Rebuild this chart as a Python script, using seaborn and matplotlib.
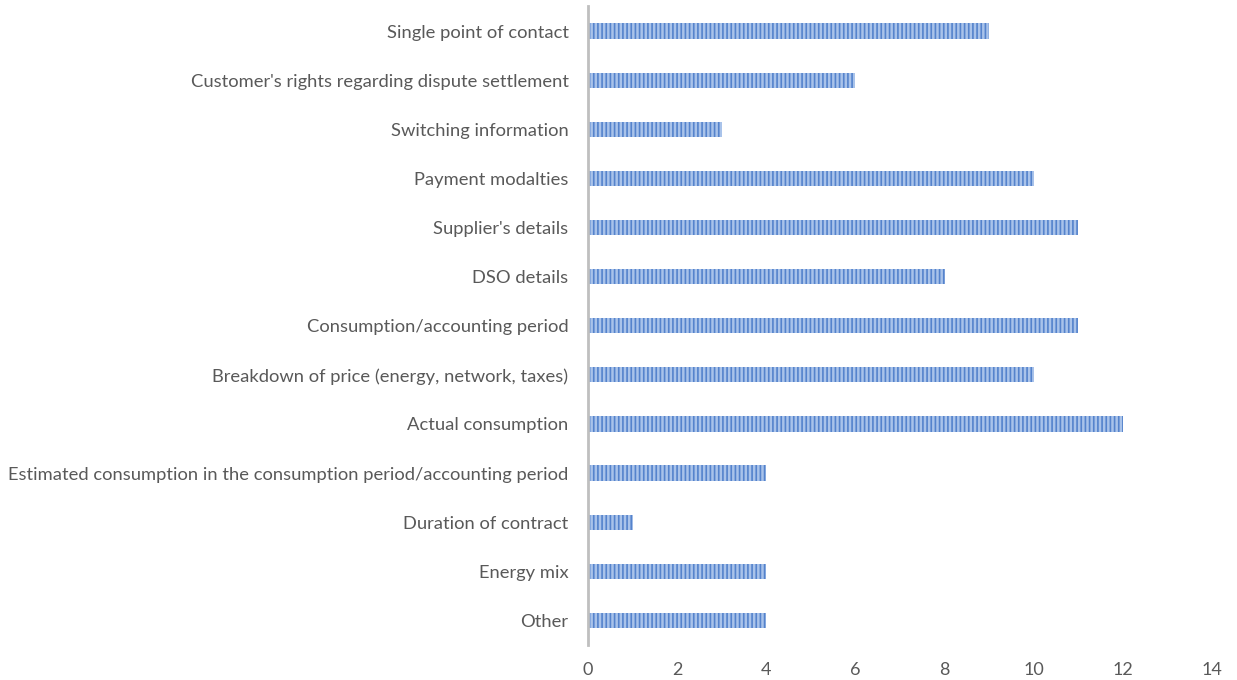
import matplotlib
matplotlib.use("Agg")
import matplotlib.pyplot as plt
import seaborn as sns
import pandas as pd

categories = [
    "Single point of contact",
    "Customer's rights regarding dispute settlement",
    "Switching information",
    "Payment modalties",
    "Supplier's details",
    "DSO details",
    "Consumption/accounting period",
    "Breakdown of price (energy, network, taxes)",
    "Actual consumption",
    "Estimated consumption in the consumption period/accounting period",
    "Duration of contract",
    "Energy mix",
    "Other",
]
counts = [9, 6, 3, 10, 11, 8, 11, 10, 12, 4, 1, 4, 4]
x_ticks = [0, 2, 4, 6, 8, 10, 12, 14]

df = pd.DataFrame({"item": categories, "count": counts})

sns.set_theme(style="white")
plt.rcParams["font.family"] = ["Lato", "DejaVu Sans"]
plt.rcParams["hatch.linewidth"] = 1.2

fig = plt.figure(figsize=(12.37, 6.8), dpi=100)
ax = fig.add_axes([588 / 1237, 1 - 645 / 680, (1212 - 588) / 1237, (645 - 6.5) / 680])

sns.barplot(data=df, y="item", x="count", orient="h", ax=ax,
            color="#a9c3ea", width=0.31, saturation=1)

for p in ax.patches:
    p.set_hatch("||||")
    p.set_edgecolor("#5583cc")
    p.set_linewidth(0)

ax.set_xlim(0, 14)
ax.set_xticks(x_ticks)
ax.set_ylim(len(categories) - 0.5, -0.5)
ax.set_xlabel("")
ax.set_ylabel("")
ax.tick_params(axis="x", labelsize=13, colors="#595959", length=0, pad=12)
ax.tick_params(axis="y", labelsize=13.2, colors="#595959", length=0, pad=14)

for side in ["top", "right", "bottom"]:
    ax.spines[side].set_visible(False)
ax.spines["left"].set_color("#bfbfbf")
ax.spines["left"].set_linewidth(2)
ax.grid(False)

fig.savefig("out.png", dpi=100)
